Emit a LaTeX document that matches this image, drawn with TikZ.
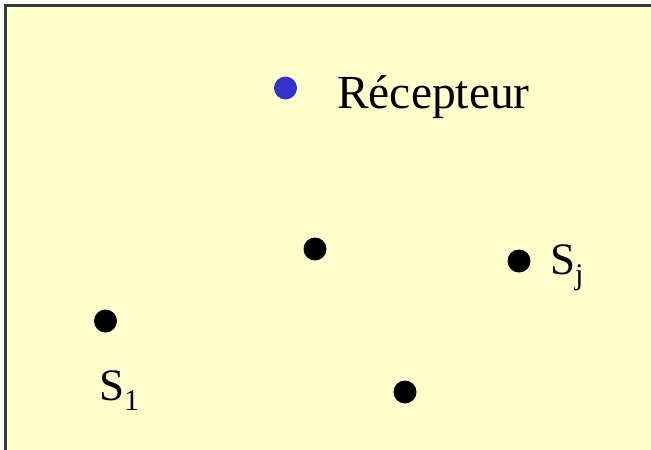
\documentclass[tikz,border=0pt]{standalone}
\usepackage{fontspec}
\setmainfont{Liberation Serif}
\definecolor{bgyellow}{HTML}{FFFFCC}
\definecolor{dotblue}{HTML}{3333CC}
\definecolor{framegray}{HTML}{3A3A3A}
\tikzset{
  pt/.style={circle, fill=black, minimum size=23pt, inner sep=0pt},
  lbl/.style={inner sep=0pt, anchor=base west},
}
\newcommand{\slabel}[1]{\fontsize{45}{48}\selectfont S\raisebox{-10pt}{\fontsize{30}{32}\selectfont #1}}
\begin{document}
\begin{tikzpicture}[x=1pt,y=-1pt]
\useasboundingbox (0,0) rectangle (651,450);
\fill[white] (0,0) rectangle (651,450);
\draw[framegray, line width=3pt, fill=bgyellow] (5.5,5.5) rectangle (680,480);
\node[pt, fill=dotblue] (rec) at (285.5,88) {};
\node[lbl] (rect) at (337,108) {\fontsize{47.5}{50}\selectfont Récepteur};
\node[pt] (p1) at (315,249) {};
\node[pt] (pj) at (519,261) {};
\node[pt] (s1) at (105.5,321) {};
\node[pt] (p4) at (405,392) {};
\node[lbl] (lj) at (550,274) {\slabel{j}};
\node[lbl] (l1) at (99,400) {\slabel{1}};
\end{tikzpicture}
\end{document}
